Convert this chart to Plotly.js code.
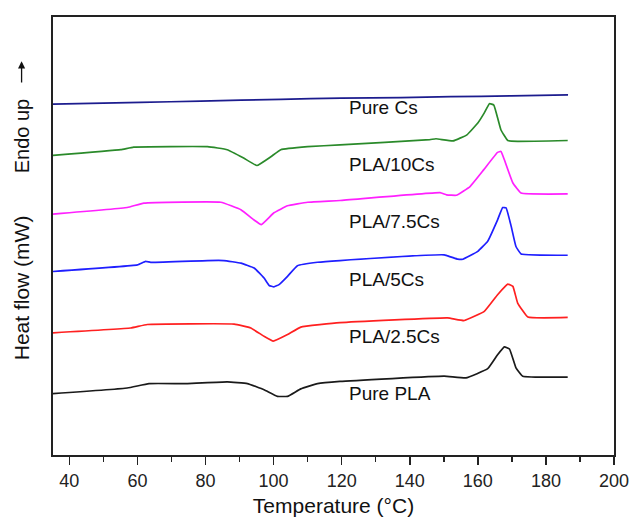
<!DOCTYPE html>
<html>
<head>
<meta charset="utf-8">
<script src="https://cdn.plot.ly/plotly-3.0.1.min.js"></script>
<style>html,body{margin:0;padding:0;background:#fff;}#chart{width:630px;height:519px;}</style>
</head>
<body>
<div id="chart"></div>
<script>
// Temperature (°C) and heat flow (arbitrary units, offset curves)
const seriesNames = ["Pure Cs", "PLA/10Cs", "PLA/7.5Cs", "PLA/5Cs", "PLA/2.5Cs", "Pure PLA"];
const seriesColors = ["#1c1c8e", "#2a8a2a", "#ff20ff", "#1f1fff", "#ff2020", "#1a1a1a"];

const tPureCs = [35.2, 60.9, 78.6, 102.1, 119.8, 137.4, 152.1, 169.8, 186.5];
const hPureCs = [80.1, 80.5, 80.8, 81.2, 81.5, 81.6, 81.8, 82.0, 82.2];

const tPla10 = [35.2, 55.1, 58.9, 80.6, 86.4, 91.2, 95.1, 99.2, 102.1, 110.0, 119.5, 145.9, 147.7, 152.7, 156.8, 160.0, 161.9, 163.4, 164.7, 166.8, 168.8, 171.7, 186.4];
const hPla10 = [68.4, 69.7, 70.3, 70.4, 69.7, 67.8, 66.1, 68.1, 69.7, 70.4, 70.8, 72.0, 72.2, 71.7, 73.1, 75.8, 78.1, 80.2, 79.9, 74.2, 71.8, 71.6, 71.8];

const tPla75 = [35.2, 57.0, 61.9, 84.5, 90.4, 94.2, 96.4, 100.1, 104.1, 110.0, 119.5, 148.9, 150.8, 153.7, 157.7, 161.7, 165.8, 166.8, 167.8, 170.3, 172.7, 186.4];
const hPla75 = [55.0, 56.5, 57.5, 57.7, 56.0, 53.7, 52.6, 55.3, 56.9, 57.7, 58.1, 59.9, 59.4, 59.3, 61.3, 65.1, 69.1, 69.3, 67.4, 62.1, 59.8, 59.6];

const tPla5 = [35.2, 60.0, 62.4, 63.9, 80.6, 85.4, 90.4, 94.3, 97.2, 98.7, 100.1, 101.6, 104.1, 107.0, 112.9, 119.5, 150.1, 154.1, 155.6, 160.0, 162.9, 165.8, 167.3, 168.3, 169.8, 171.2, 172.7, 186.4];
const hPla5 = [41.9, 43.4, 44.2, 44.0, 44.4, 44.4, 43.8, 42.7, 40.4, 38.7, 38.4, 38.9, 40.8, 43.2, 44.0, 44.4, 45.7, 44.7, 44.7, 46.5, 48.8, 53.7, 56.5, 56.4, 52.2, 47.6, 45.9, 45.6];

const tPla25 = [35.2, 58.0, 62.9, 88.4, 93.3, 97.2, 99.9, 104.1, 108.0, 119.5, 151.1, 156.0, 161.9, 165.8, 168.8, 170.3, 171.7, 174.7, 186.4];
const hPla25 = [27.9, 29.0, 29.8, 29.9, 29.0, 27.1, 26.0, 27.5, 29.2, 30.2, 31.3, 30.7, 32.8, 36.6, 39.0, 38.5, 34.7, 31.5, 31.4];

const tPurePla = [35.2, 57.0, 63.4, 74.7, 86.4, 92.3, 97.2, 101.1, 104.1, 108.0, 112.9, 119.5, 150.1, 156.5, 162.9, 165.8, 167.8, 169.3, 171.2, 173.2, 186.4];
const hPurePla = [14.0, 15.3, 16.3, 16.3, 16.7, 16.3, 14.9, 13.4, 13.4, 15.1, 16.3, 16.8, 18.0, 17.6, 19.7, 22.9, 24.7, 24.2, 19.9, 18.0, 17.8];

const labelT = [121.6, 121.6, 121.6, 121.6, 121.6, 121.6];
const labelH = [79.3, 66.3, 53.3, 40.0, 27.0, 14.0];

const xs = [tPureCs, tPla10, tPla75, tPla5, tPla25, tPurePla];
const ys = [hPureCs, hPla10, hPla75, hPla5, hPla25, hPurePla];

const FONT = "'Liberation Sans', Arial, Helvetica, sans-serif";
const traces = seriesNames.map((n, i) => ({
  type: 'scatter', mode: 'lines', name: n,
  x: xs[i], y: ys[i],
  line: {color: seriesColors[i], width: 1.7, shape: 'spline', smoothing: 0.3},
  hoverinfo: 'skip'
}));

const annotations = seriesNames.map((n, i) => ({
  xref: 'x', yref: 'y', x: labelT[i], y: labelH[i], text: n,
  showarrow: false, xanchor: 'left', yanchor: 'middle',
  font: {family: FONT, size: 19, color: '#111'}
}));
annotations.push({
  xref: 'paper', yref: 'paper', x: -0.056, y: 0.382, text: 'Heat flow (mW)',
  textangle: -90, showarrow: false, xanchor: 'center', yanchor: 'middle',
  font: {family: FONT, size: 21, color: '#111'}
});
annotations.push({
  xref: 'paper', yref: 'paper', x: -0.056, y: 0.729, text: 'Endo up',
  textangle: -90, showarrow: false, xanchor: 'center', yanchor: 'middle',
  font: {family: FONT, size: 20, color: '#111'}
});
annotations.push({
  xref: 'paper', yref: 'paper', x: -0.056, y: 0.899, ax: -0.056, ay: 0.847,
  axref: 'paper', ayref: 'paper', text: '', showarrow: true,
  arrowhead: 2, arrowsize: 1.1, arrowwidth: 1.3, arrowcolor: '#111'
});

const layout = {
  width: 630, height: 519,
  margin: {l: 53, r: 16, t: 17, b: 64},
  paper_bgcolor: '#fff', plot_bgcolor: '#fff',
  showlegend: false,
  font: {family: FONT, color: '#222'},
  xaxis: {
    range: [35.2, 200], tick0: 40, dtick: 20,
    ticks: 'outside', ticklen: 8, tickwidth: 1.5, tickcolor: '#222',
    minor: {dtick: 10, ticks: 'outside', ticklen: 5, tickwidth: 1.5, tickcolor: '#222'},
    showline: true, mirror: true, linewidth: 2, linecolor: '#222',
    showgrid: false, zeroline: false,
    tickfont: {family: FONT, size: 18, color: '#222'},
    title: {text: 'Temperature (°C)', font: {family: FONT, size: 21, color: '#111'}, standoff: 9}
  },
  yaxis: {
    range: [0, 100],
    showticklabels: false, ticks: '',
    showline: true, mirror: true, linewidth: 2, linecolor: '#222',
    showgrid: false, zeroline: false
  },
  annotations: annotations
};

Plotly.newPlot('chart', traces, layout, {staticPlot: true, displayModeBar: false});
</script>
</body>
</html>
